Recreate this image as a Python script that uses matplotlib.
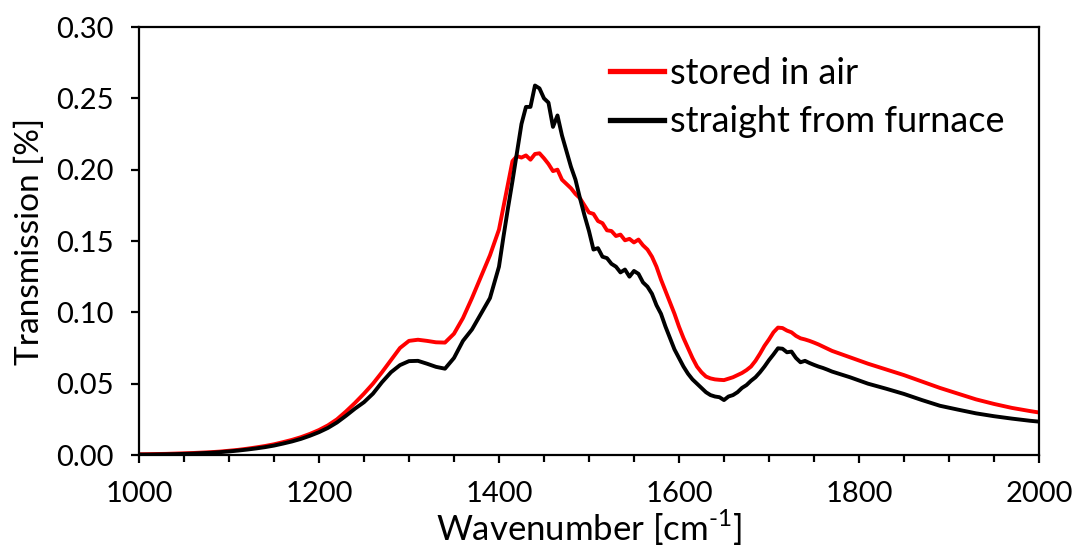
import matplotlib
matplotlib.use("Agg")
import matplotlib.pyplot as plt
from matplotlib.ticker import MultipleLocator, FormatStrFormatter

# Wavenumber grid [cm-1]
wavenumber = [
    1000, 1010, 1020, 1030, 1040, 1050, 1060, 1070, 1080, 1090,
    1100, 1110, 1120, 1130, 1140, 1150, 1160, 1170, 1180, 1190,
    1200, 1210, 1220, 1230, 1240, 1250, 1260, 1270, 1280, 1290,
    1300, 1310, 1320, 1330, 1340, 1350, 1360, 1370, 1380, 1390, 1400,
    1405, 1410, 1415, 1420, 1425, 1430, 1435, 1440, 1445, 1450,
    1455, 1460, 1465, 1470, 1475, 1480, 1485, 1490, 1495, 1500,
    1505, 1510, 1515, 1520, 1525, 1530, 1535, 1540, 1545, 1550,
    1555, 1560, 1565, 1570, 1575, 1580, 1585, 1590, 1595, 1600,
    1605, 1610, 1615, 1620, 1625, 1630, 1635, 1640, 1645, 1650,
    1655, 1660, 1665, 1670, 1675, 1680, 1685, 1690, 1695, 1700,
    1705, 1710, 1715, 1720, 1725, 1730, 1735, 1740, 1745, 1750,
    1755, 1760, 1765, 1770,
    1790, 1810, 1830, 1850, 1870, 1890, 1910, 1930, 1950, 1970, 1990, 2000,
]

stored_in_air = [
    0.0005, 0.0006, 0.0007, 0.0008, 0.0010, 0.0012, 0.0014, 0.0017, 0.0020, 0.0024,
    0.0030, 0.0036, 0.0044, 0.0053, 0.0063, 0.0075, 0.0090, 0.0106, 0.0125, 0.0148,
    0.0175, 0.0208, 0.0250, 0.0305, 0.0365, 0.0430, 0.0500, 0.0580, 0.0665, 0.0750,
    0.0800, 0.0808, 0.0800, 0.0790, 0.0788, 0.0850, 0.0960, 0.1100, 0.1250, 0.1400, 0.1580,
    0.1740, 0.1900, 0.2060, 0.2095, 0.2085, 0.2100, 0.2070, 0.2110, 0.2115, 0.2080,
    0.2040, 0.1990, 0.2000, 0.1930, 0.1900, 0.1870, 0.1830, 0.1800, 0.1750, 0.1700,
    0.1690, 0.1640, 0.1625, 0.1575, 0.1570, 0.1535, 0.1545, 0.1505, 0.1515, 0.1490,
    0.1510, 0.1470, 0.1440, 0.1390, 0.1320, 0.1230, 0.1150, 0.1070, 0.0990, 0.0900,
    0.0820, 0.0750, 0.0680, 0.0620, 0.0580, 0.0550, 0.0537, 0.0530, 0.0527, 0.0525,
    0.0535, 0.0545, 0.0560, 0.0575, 0.0595, 0.0620, 0.0660, 0.0710, 0.0765, 0.0810,
    0.0860, 0.0893, 0.0890, 0.0872, 0.0860, 0.0835, 0.0818, 0.0810, 0.0800, 0.0788,
    0.0775, 0.0760, 0.0745, 0.0730,
    0.0685, 0.0640, 0.0600, 0.0560, 0.0515, 0.0470, 0.0430, 0.0390, 0.0358, 0.0330, 0.0308, 0.0298,
]

straight_from_furnace = [
    0.0003, 0.0003, 0.0004, 0.0005, 0.0006, 0.0008, 0.0010, 0.0013, 0.0016, 0.0020,
    0.0025, 0.0031, 0.0038, 0.0046, 0.0055, 0.0066, 0.0080, 0.0095, 0.0113, 0.0135,
    0.0160, 0.0190, 0.0228, 0.0275, 0.0325, 0.0370, 0.0430, 0.0510, 0.0580, 0.0630,
    0.0658, 0.0660, 0.0640, 0.0618, 0.0605, 0.0680, 0.0800, 0.0880, 0.0990, 0.1100, 0.1320,
    0.1530, 0.1730, 0.1920, 0.2120, 0.2320, 0.2440, 0.2440, 0.2590, 0.2570, 0.2500,
    0.2470, 0.2300, 0.2380, 0.2240, 0.2130, 0.2020, 0.1930, 0.1800, 0.1680, 0.1570,
    0.1440, 0.1450, 0.1390, 0.1380, 0.1340, 0.1320, 0.1280, 0.1300, 0.1250, 0.1290,
    0.1270, 0.1210, 0.1180, 0.1130, 0.1050, 0.0990, 0.0900, 0.0820, 0.0740, 0.0680,
    0.0620, 0.0570, 0.0530, 0.0500, 0.0470, 0.0440, 0.0420, 0.0410, 0.0405, 0.0385,
    0.0410, 0.0420, 0.0440, 0.0470, 0.0490, 0.0520, 0.0545, 0.0580, 0.0620, 0.0665,
    0.0705, 0.0748, 0.0745, 0.0720, 0.0725, 0.0680, 0.0650, 0.0660, 0.0645, 0.0632,
    0.0620, 0.0610, 0.0598, 0.0585,
    0.0545, 0.0500, 0.0465, 0.0428, 0.0385, 0.0345, 0.0318, 0.0292, 0.0272, 0.0255, 0.0240, 0.0234,
]

series_labels = ["stored in air", "straight from furnace"]

plt.rcParams['font.family'] = ['Lato', 'DejaVu Sans']
plt.rcParams['mathtext.fontset'] = 'custom'
plt.rcParams['mathtext.rm'] = 'Lato'

fig = plt.figure(figsize=(10.73, 5.48), dpi=100)
ax = fig.add_axes([0.1295, 0.1697, 0.8388, 0.7810])

ax.plot(wavenumber, stored_in_air, color='#ff0000', lw=2.8, label=series_labels[0])
ax.plot(wavenumber, straight_from_furnace, color='#000000', lw=2.8, label=series_labels[1])

ax.set_xlim(1000, 2000)
ax.set_ylim(0, 0.30)
ax.xaxis.set_major_locator(MultipleLocator(200))
ax.xaxis.set_minor_locator(MultipleLocator(50))
ax.yaxis.set_major_locator(MultipleLocator(0.05))
ax.yaxis.set_major_formatter(FormatStrFormatter('%.2f'))

for s in ax.spines.values():
    s.set_linewidth(1.6)
ax.tick_params(axis='both', which='major', direction='out', length=6, width=1.6,
               labelsize=21)
ax.tick_params(axis='y', which='major', pad=12)
ax.tick_params(axis='x', which='major', pad=13)
ax.tick_params(axis='x', which='minor', direction='out', length=5, width=1.6)

ax.set_xlabel('Wavenumber [cm$^{\\text{-1}}$]', fontsize=25, labelpad=0)
ax.set_ylabel('Transmission [%]', fontsize=24, labelpad=8)

leg = ax.legend(loc='upper left', bbox_to_anchor=(0.523, 0.93), frameon=False,
                fontsize=26, handlelength=1.5, handletextpad=0.17,
                labelspacing=0.42, borderaxespad=0, borderpad=0)
for line in leg.get_lines():
    line.set_linewidth(3.8)

fig.savefig('out.png', dpi=100)
